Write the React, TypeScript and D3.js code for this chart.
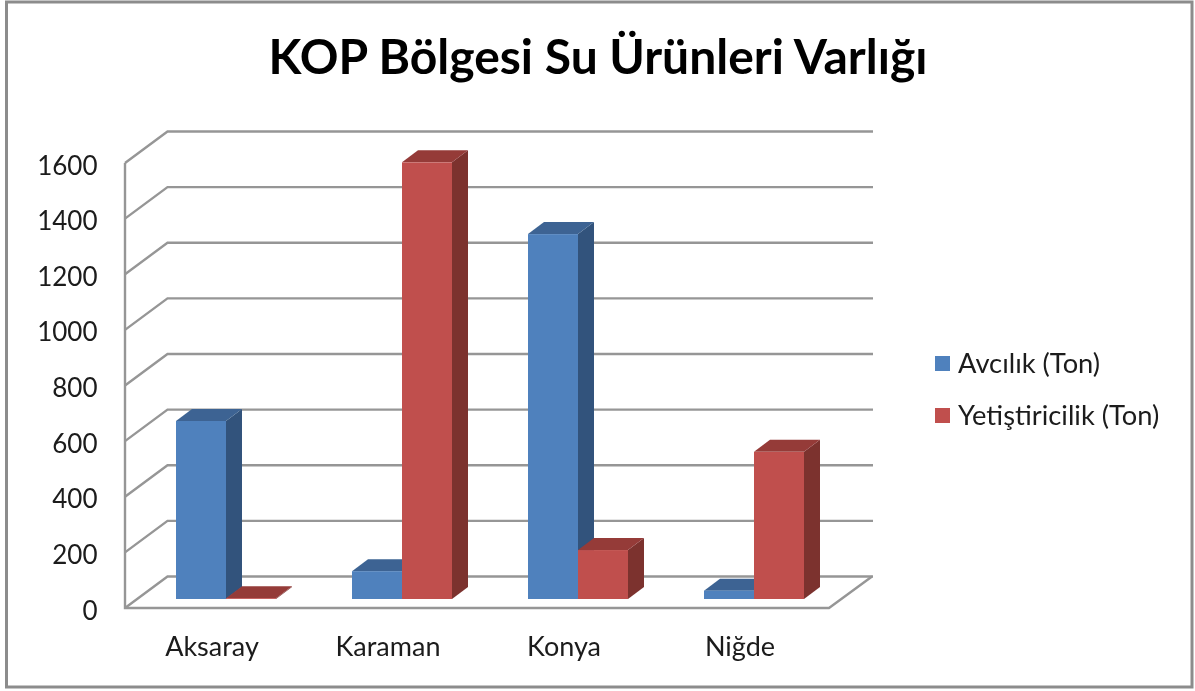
import React from "react";
import * as d3 from "d3";

const categories = ["Aksaray", "Karaman", "Konya", "Niğde"];
const seriesNames = ["Avcılık (Ton)", "Yetiştiricilik (Ton)"];
const avcilik = [640, 100, 1312, 30];
const yetistiricilik = [3, 1570, 176, 529];
const yTicks = [0, 200, 400, 600, 800, 1000, 1200, 1400, 1600];
const title = "KOP Bölgesi Su Ürünleri Varlığı";

const colors = [
  { front: "#4f81bd", side: "#31527b", top: "#3c6493" },
  { front: "#c0504d", side: "#7b302e", top: "#953b39" },
];
const GRID = "#969696";
const FONT = "Lato, Carlito, 'Open Sans', sans-serif";
const TEXT = "#1a1a1a";

export default function App() {
  const y = d3.scaleLinear().domain([0, 1600]).range([608, 163]);
  const x = d3.scaleBand<string>().domain(categories).range([125, 829]);
  const inner = d3.scaleBand<number>().domain([0, 1]).range([51, 151]);
  const depthX = 42.5, depthY = -31.5; // wall offset
  const barDX = 16, barDY = -12, barBase = y(0) - 9;
  const series = [avcilik, yetistiricilik];
  const h = (v: number) => y(0) - y(v);

  return (
    <svg width={1195} height={691} style={{ position: "absolute", left: 0, top: 0, background: "#fff" }}>
      <defs>
        <filter id="soft" x="-5%" y="-5%" width="110%" height="110%">
          <feGaussianBlur stdDeviation="0.55" />
        </filter>
      </defs>
      <g filter="url(#soft)">
        <rect x={6.5} y={2} width={1185.5} height={685} fill="#fff" stroke="#8c8c8c" strokeWidth={3} />
        <text x={598} y={74} textAnchor="middle" fontFamily={FONT} fontWeight={700} fontSize={48} fill="#000">{title}</text>

        <g fill="none" stroke={GRID} strokeWidth={2.4}>
          {yTicks.map((t) => (
            <path key={t} d={`M125,${y(t)} L${125 + depthX},${y(t) + depthY} H${873}`} />
          ))}
          <path d={`M125,${y(1600)} V${y(0)} H829 L${829 + 43},${y(0) + depthY}`} />
        </g>

        {yTicks.map((t) => (
          <text key={t} x={97.5} y={y(t) + 11.5} textAnchor="end" fontFamily={FONT} fontSize={26} fill={TEXT}>{t}</text>
        ))}

        {categories.map((c, i) => (
          <g key={c}>
            {series.map((s, k) => {
              const x0 = x(c)! + inner(k)!;
              const w = inner.bandwidth();
              const yTop = barBase - h(s[i]);
              const col = colors[k];
              return (
                <g key={k}>
                  <path fill={col.side} d={`M${x0 + w},${barBase} l${barDX},${barDY} V${yTop + barDY} L${x0 + w},${yTop} Z`} />
                  <path fill={col.top} d={`M${x0},${yTop} l${barDX},${barDY} h${w} l${-barDX},${-barDY} Z`} />
                  <rect x={x0} y={yTop} width={w} height={h(s[i])} fill={col.front} />
                </g>
              );
            })}
            <text x={x(c)! + x.bandwidth() / 2 - 1} y={656} textAnchor="middle" fontFamily={FONT} fontSize={27} fill={TEXT}>{c}</text>
          </g>
        ))}

        {seriesNames.map((n, k) => (
          <g key={n}>
            <rect x={935} y={356 + k * 52} width={15} height={15} fill={colors[k].front} />
            <text x={958} y={373 + k * 52} fontFamily={FONT} fontSize={27.3} fill={TEXT}>{n}</text>
          </g>
        ))}
      </g>
    </svg>
  );
}
